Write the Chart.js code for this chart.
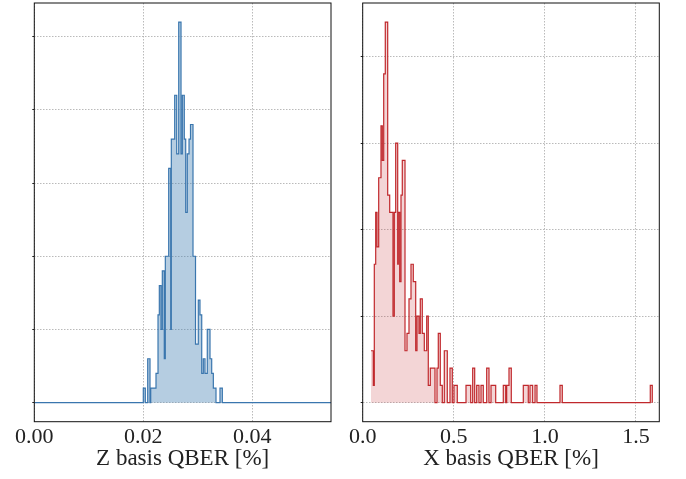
<!DOCTYPE html>
<html>
<head>
<meta charset="utf-8">
<script src="https://cdn.jsdelivr.net/npm/chart.js@4/dist/chart.umd.min.js"></script>
<style>
  html, body { margin: 0; padding: 0; background: #fff; }
  #wrap { position: relative; width: 686px; height: 479px; }
  canvas { position: absolute; top: 0; }
  #zcanvas { left: 0; }
  #xcanvas { left: 343px; }
</style>
</head>
<body>
<div id="wrap">
  <canvas id="zcanvas" width="343" height="479"></canvas>
  <canvas id="xcanvas" width="343" height="479"></canvas>
</div>
<script>
// Z basis histogram: left edge of each step and the count held until the next edge
var zEdges = [0, 0.02000, 0.02037, 0.02081, 0.02123, 0.02136, 0.02233, 0.02270, 0.02294, 0.02325,
    0.02349, 0.02385, 0.02404, 0.02466, 0.02503, 0.02514, 0.02576, 0.02613, 0.02650, 0.02692,
    0.02716, 0.02752, 0.02778, 0.02807, 0.02839, 0.02866, 0.02912, 0.02958, 0.03009, 0.03040,
    0.03072, 0.03101, 0.03132, 0.03174, 0.03224, 0.03255, 0.03285, 0.03334, 0.03407, 0.03450, 0.0545];
var zCounts = [0, 1, 0, 3, 0, 1, 2, 6, 8, 5,
    9, 3, 10, 16, 5, 18, 21, 17, 26, 17,
    21, 18, 13, 17, 18, 19, 10, 4, 7, 6,
    2, 3, 2, 5, 3, 2, 1, 0, 1, 0, 0];

// X basis histogram
var xEdges = [0.0456, 0.0582, 0.0637, 0.0714, 0.0785, 0.0878, 0.1004, 0.1076, 0.1153, 0.1240,
    0.1372, 0.1482, 0.1663, 0.1734, 0.1811, 0.1921, 0.1954, 0.2031, 0.2102, 0.2173,
    0.2322, 0.2431, 0.2541, 0.2651, 0.2777, 0.2909, 0.2980, 0.3090, 0.3161, 0.3271,
    0.3381, 0.3513, 0.3600, 0.3710, 0.3968, 0.4078, 0.4149, 0.4259, 0.4369, 0.4479,
    0.4643, 0.4791, 0.4918, 0.5011, 0.5192, 0.5670, 0.5928, 0.6037, 0.6147, 0.6257,
    0.6383, 0.6493, 0.6619, 0.6806, 0.6932, 0.7042, 0.7300, 0.7717, 0.7849, 0.7903,
    0.8030, 0.8156, 0.8815, 0.9089, 0.9182, 0.9330, 0.9457, 0.9566, 1.0829, 1.0955,
    1.5785, 1.5895];
var xCounts = [3, 1, 8, 11, 9, 13, 16, 14, 19, 22,
    12, 11, 5, 11, 15, 8, 11, 7, 12, 14,
    3, 4, 6, 8, 7, 3, 5, 4, 6, 4,
    3, 5, 1, 2, 0, 2, 4, 1, 0, 3,
    0, 2, 0, 1, 0, 1, 0, 2, 0, 1,
    0, 1, 0, 2, 0, 1, 0, 1, 0, 1,
    2, 0, 1, 0, 1, 0, 1, 0, 1, 0,
    1, 0];

var zTicks = [0, 0.02, 0.04];
var xTicks = [0, 0.5, 1.0, 1.5];

var serif = "'Liberation Serif', 'DejaVu Serif', serif";

// matplotlib-like box around the axes
var framePlugin = {
    id: 'frame',
    afterDraw: function (chart) {
        var a = chart.chartArea, ctx = chart.ctx;
        ctx.save();
        ctx.strokeStyle = '#111';
        ctx.lineWidth = 1;
        ctx.strokeRect(a.left, a.top, a.right - a.left, a.bottom - a.top);
        ctx.restore();
    }
};

function makeChart(id, edges, counts, tickVals, opts) {
    var pts = [];
    for (var i = 0; i < edges.length; i++) {
        pts.push({x: edges[i], y: counts[i]});
    }
    return new Chart(document.getElementById(id), {
        type: 'line',
        data: {
            datasets: [{
                data: pts,
                // 'before' keeps each count flat until the next edge
                stepped: 'before',
                fill: 'origin',
                backgroundColor: opts.fill,
                borderColor: opts.line,
                borderWidth: 1.2,
                pointRadius: 0,
                tension: 0
            }]
        },
        plugins: [framePlugin],
        options: {
            responsive: false,
            animation: false,
            events: [],
            layout: {padding: {left: 0, top: 3, right: opts.padRight, bottom: 0}},
            plugins: {legend: {display: false}, tooltip: {enabled: false}},
            scales: {
                x: {
                    type: 'linear',
                    min: opts.xmin,
                    max: opts.xmax,
                    afterBuildTicks: function (s) {
                        s.ticks = tickVals.map(function (v) { return {value: v}; });
                    },
                    ticks: {
                        color: '#222',
                        font: {family: serif, size: 22},
                        padding: 2,
                        maxRotation: 0,
                        callback: function (v) { return Number(v).toFixed(opts.decimals); }
                    },
                    grid: {color: '#a8a8a8', lineWidth: 0.8, drawTicks: false},
                    border: {display: false, dash: [1.5, 1.5]},
                    title: {
                        display: true,
                        text: opts.title,
                        color: '#222',
                        font: {family: serif, size: 23},
                        padding: {top: 0, bottom: 6}
                    },
                    afterFit: function (s) { s.height = 57.3; }
                },
                y: {
                    type: 'linear',
                    min: opts.ymin,
                    max: opts.ymax,
                    ticks: {stepSize: 5, includeBounds: false, display: false},
                    grid: {color: '#a8a8a8', lineWidth: 0.8, tickLength: 2, tickColor: '#222', tickWidth: 1},
                    border: {display: false, dash: [1.5, 1.5]},
                    afterFit: function (s) { s.width = opts.yWidth; }
                }
            }
        }
    });
}

makeChart('zcanvas', zEdges, zCounts, zTicks, {
    fill: 'rgba(70, 130, 180, 0.4)',
    line: 'rgba(58, 118, 174, 1)',
    xmin: 0, xmax: 0.05444, ymin: -1.3, ymax: 27.3,
    decimals: 2, title: 'Z basis QBER [%]',
    padRight: 12, yWidth: 34.3
});

makeChart('xcanvas', xEdges, xCounts, xTicks, {
    fill: 'rgba(196, 44, 48, 0.2)',
    line: 'rgba(192, 40, 44, 1)',
    xmin: 0, xmax: 1.628, ymin: -1.1, ymax: 23.1,
    decimals: 1, title: 'X basis QBER [%]',
    padRight: 26.7, yWidth: 19.7
});
</script>
</body>
</html>
